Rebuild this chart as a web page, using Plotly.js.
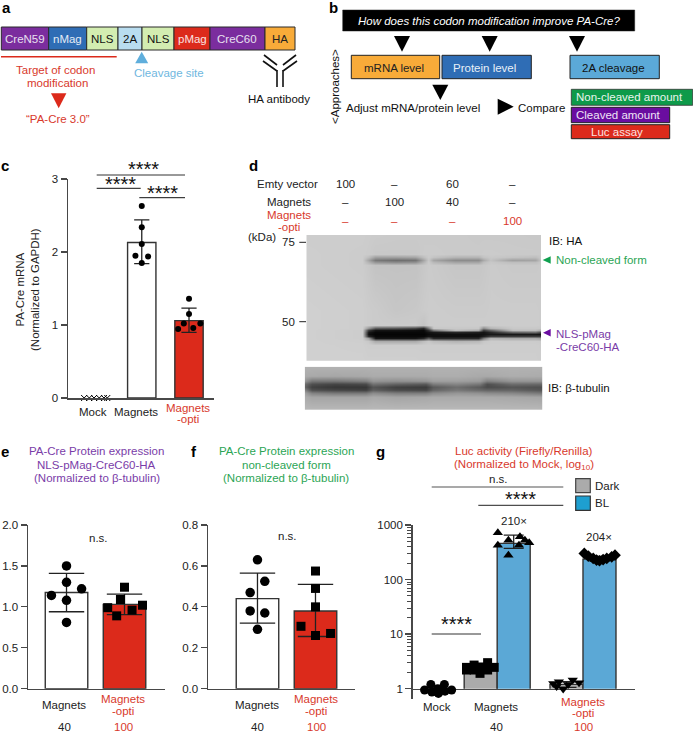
<!DOCTYPE html>
<html><head><meta charset="utf-8">
<script src="https://cdn.plot.ly/plotly-3.0.1.min.js"></script>
<style>html,body{margin:0;padding:0;background:#fff}</style></head>
<body><div id="chart" style="width:693px;height:733px"></div>
<script>
// ---- panel c: PA-Cre mRNA
const cCategories = ['Mock','Magnets','Magnets-opti'];
const cMeans = [0, 2.13, 1.06];
const cErrUp = [0, 0.31, 0.17];
const cErrDown = [0, 0.29, 0.16];
const cMockVals = [0,0,0,0,0,0];
const cMockJitter = [-0.22,-0.11,-0.01,0.1,0.2,0.27];
const cMagVals = [2.63,2.34,2.11,1.95,1.94,1.85];
const cMagJitter = [0,0,0,-0.134,0.134,0];
const cOptVals = [1.36,1.15,0.945,1.02,1.02,0.96];
const cOptJitter = [0,0,-0.23,-0.11,0.24,0.09];
// ---- panel e
const eMeans = [1.175, 1.03];
const eErrUp = [0.235, 0.125];
const eErrDown = [0.235, 0.125];
const eMagVals = [1.5,1.3,1.22,1.14,1.08,0.81];
const eMagJitter = [0,0,0.26,-0.26,0,0];
const eOptVals = [1.24,1.09,0.99,1.02,0.96,0.89];
const eOptJitter = [0,-0.07,-0.29,0.31,0.13,-0.135];
// ---- panel f
const fMeans = [0.44, 0.38];
const fErrUp = [0.125, 0.13];
const fErrDown = [0.12, 0.125];
const fMagVals = [0.63,0.525,0.47,0.38,0.37,0.29];
const fMagJitter = [0,0.126,-0.126,-0.126,0.126,0];
const fOptVals = [0.575,0.49,0.40,0.305,0.26,0.27];
const fOptJitter = [0,0,0,-0.25,0,0.26];
// ---- panel g
const gDarkPos = [0.76,2.06,4.66];
const gDarkMeans = [1.0,2.4,1.2];
const gDarkErrUp = [0.12,0.35,0.14];
const gDarkErrDown = [0.12,0.35,0.14];
const gBLPos = [3.06,5.66];
const gBLMeans = [460,237];
const gBLErrUp = [190,30];
const gBLErrDown = [88,22];
const gMockVals = [1.2,1.2,0.945,0.945,1.0,0.87,0.82,0.9,0.85];
const gMockJitter = [-0.21,0.2,-0.4,0.42,0,-0.18,0.02,0.22,0];
const gMagDarkVals = [2.46,2.71,3.0,2.46,2.2,2.2,1.91,2.2,2.5];
const gMagDarkJitter = [-0.43,-0.2,0.21,0.41,-0.43,-0.2,-0.02,0.21,-0.02];
const gMagBLVals = [720,608,528,528,472,427,427,280];
const gMagBLJitter = [-0.48,0.19,-0.16,0.34,0.47,-0.48,0.16,-0.16];
const gOptDarkVals = [1.25,1.34,0.99,1.44,1.29,1.2,1.1];
const gOptDarkJitter = [-0.4,-0.23,-0.1,0.19,0.38,0.05,-0.3];
const gOptBLVals = [301,269,244,221,244,261,280,228,232];
const gOptBLJitter = [-0.46,-0.34,-0.19,0,0.22,0.37,0.47,-0.09,0.11];
// ---- panel d: blot intensities (grey level per grid node)
const blotHAx = [306,362,368,375,395,415,423,428,433,455,478,483,490,512,535,541];
const blotHAy = [235,254,257,259.5,262,265,310,325,328,330,332,334,336,338,341,345,361];
const blotHAz = [
[205,205,204,203,202,202,202,202,202,202,201,201,201,201,200,200],
[206,204,203,200,200,200,203,203,203,202,202,203,203,202,202,202],
[206,204,190,160,160,165,190,203,195,180,180,195,200,195,190,202],
[206,204,165,120,110,115,165,200,165,140,140,170,195,160,165,200],
[206,204,180,150,140,145,180,203,185,165,165,190,200,190,190,202],
[206,204,200,195,195,195,200,203,202,198,198,200,203,201,201,202],
[208,206,204,203,198,200,203,204,204,203,203,203,204,204,204,203],
[208,206,204,203,203,203,195,204,204,204,204,204,204,204,204,203],
[208,206,150,90,85,70,40,120,200,200,200,140,180,200,200,200],
[208,205,60,20,20,15,10,50,120,190,170,60,100,190,190,170],
[208,205,25,8,8,8,8,20,25,40,30,20,40,100,110,70],
[208,205,15,5,5,5,5,12,15,15,15,18,25,25,25,20],
[208,205,40,8,8,8,8,20,15,15,15,30,60,60,60,60],
[208,205,160,20,20,20,40,90,40,40,40,120,180,170,170,160],
[208,206,200,170,170,170,190,200,190,180,185,200,204,203,203,202],
[208,207,205,205,205,205,205,205,205,205,205,205,205,205,205,204],
[208,208,207,207,207,207,206,206,206,206,206,206,206,206,206,205]];
const blotTubX = [305,312,335,365,372,395,425,432,455,478,485,510,540];
const blotTubY = [367,376,381,384,387,390,393,397,410];
const blotTubZ = [
[178,178,178,178,178,178,178,178,178,178,178,178,178],
[172,170,168,170,172,172,172,174,174,170,170,174,172],
[150,120,120,130,150,145,150,160,160,155,130,150,150],
[110,80,70,75,115,100,90,125,135,120,80,110,105],
[100,65,55,55,85,65,60,90,110,90,75,85,80],
[130,80,70,65,95,75,70,100,120,105,100,100,85],
[160,130,120,120,140,125,125,140,150,145,140,135,120],
[172,165,165,165,170,165,168,170,170,170,170,168,165],
[185,185,185,185,185,185,185,185,185,185,185,185,185]];

// ---- styles
const W = 693, H = 733;
const FONT = 'Liberation Sans, Arial, sans-serif';
const TXT = '#222222', AX = '#484848', RED = '#DC2A1B', BLUE = '#5BA8D6', PURPLE = '#7B2D9E',
      REDT = '#D8392C', GREENT = '#2BA555', PURPT = '#7A3CA8', SKY = '#6FB7E0';
const px = v => v / W, py = v => 1 - v / H;
const BASE = 11.5;

const shapes = [], annotations = [];
function rect(x0,y0,x1,y1,fill,lc,lw){shapes.push({type:'rect',xref:'paper',yref:'paper',x0:px(x0),x1:px(x1),y0:py(y0),y1:py(y1),fillcolor:fill,line:{color:lc||'#222',width:lw===undefined?1:lw}});}
function line(x0,y0,x1,y1,c,w){shapes.push({type:'line',xref:'paper',yref:'paper',x0:px(x0),x1:px(x1),y0:py(y0),y1:py(y1),line:{color:c||'#222',width:w||1}});}
function poly(pts,fill){shapes.push({type:'path',xref:'paper',yref:'paper',path:'M'+pts.map(p=>px(p[0])+' '+py(p[1])).join(' L')+' Z',fillcolor:fill,line:{width:0,color:fill}});}
function t(x,y,text,o){o=o||{};annotations.push({xref:'paper',yref:'paper',x:px(x),y:py(y),text:text,showarrow:false,xanchor:o.a||'center',yanchor:'middle',align:o.al||'center',textangle:o.rot||0,borderpad:0,
  font:{family:FONT,size:o.s||BASE,color:o.c||TXT,weight:o.w||'normal',style:o.i?'italic':'normal'}});}
function stars(x,y){t(x,y+3,'****',{s:20,c:'#111'});}
const DOSE_Y = 726.5;

// panel letters
[['a',6,8],['b',333,8],['c',5,166],['d',253,165],['e',5,451],['f',194,451],['g',380,451]].forEach(l=>t(l[1],l[2],l[0],{s:15,w:'bold',c:'#000'}));

// panel a
[[1.3,48.7,PURPLE,'CreN59','#E8E0F0'],[48.7,86.7,'#2F6DB5','nMag','#E3ECF6'],[86.7,118,'#D3EDB1','NLS','#111'],[118,142,'#B9DDF0','2A','#111'],
 [142,174,'#D3EDB1','NLS','#111'],[174,210,RED,'pMag','#FBE3E0'],[210,265,PURPLE,'CreC60','#E8E0F0'],[265,295,'#F8AB39','HA','#222']].forEach(b=>{
  rect(b[0],27,b[1],50,b[2],'#2a2a2a',1); t((b[0]+b[1])/2,39,b[3],{c:b[4]});});
line(1,56.7,116.7,56.7,RED,1.5);
t(55.7,70,'Target of codon',{c:REDT});
t(57.3,83.3,'modification',{c:REDT});
poly([[51,93.3],[66.4,93.3],[58.7,108.3]],RED);
t(58.3,119.3,'“PA-Cre 3.0”',{c:REDT});
poly([[141.7,51.7],[135.2,63.3],[148.2,63.3]],'#5FAEDC');
t(169,73.3,'Cleavage site',{c:SKY});
line(264,55,277,65,'#111',1.6);line(263,61,277,71,'#111',1.6);line(296,55,283,65,'#111',1.6);line(297,61,283,71,'#111',1.6);
line(277,70,277,87,'#111',1.6);line(283,70,283,87,'#111',1.6);
t(278.7,99,'HA antibody',{c:'#111'});

// panel b
rect(342.7,10,634.7,31,'#000','#222',0.5);
t(488.5,20.7,'How does this codon modification improve PA-Cre?',{c:'#fff',i:true});
[402,489.7,577].forEach(x=>poly([[x-8,36],[x+8,36],[x,51.7]],'#000'));
rect(351.3,55.3,439.7,78.7,'#F8AB39','#222',1);t(393.5,68,'mRNA level',{c:'#222'});
rect(442,55.3,531.3,78.7,'#2F6DB5','#222',1);t(484.5,68,'Protein level',{c:'#E8F0F8'});
rect(570,55.3,659.3,78.7,'#5BA9D8','#222',1);t(613,68,'2A cleavage',{c:'#111'});
poly([[432.3,84.7],[448.3,84.7],[440.3,100]],'#000');
t(413,107.7,'Adjust mRNA/protein level',{c:'#111'});
poly([[497.7,98.7],[497.7,114.7],[513.7,106.7]],'#000');
t(541,108,'Compare',{c:'#111'});
rect(571.3,89.3,692.7,105.3,'#0E9A4A','#333',0.8);t(629,97,'Non-cleaved amount',{c:'#EAF6EE'});
rect(571.3,107.3,669.7,122.7,'#6A0DA0','#222',1);t(618.3,115,'Cleaved amount',{c:'#EFE4F6'});
rect(571.3,124.7,669.7,138.7,RED,'#222',1);t(616.7,131.5,'Luc assay',{c:'#FBE3E0'});
t(335,87,'&lt;Approaches&gt;',{rot:-90,c:'#111'});

// panel c labels
line(96.7,175,185,175,'#333',1);stars(143,165.7);
line(96.7,188.3,140.7,188.3,'#111',1);stars(120,181);
line(139.3,197.7,185,197.7,'#111',1);stars(162.7,190);
t(92.7,412,'Mock');t(136,412,'Magnets');t(187.7,408,'Magnets',{c:REDT});t(187.7,419,'-opti',{c:REDT});
t(27,290,'PA-Cre mRNA<br>(Normalized to GAPDH)',{rot:-90});

// panel d labels
t(287.7,184,'Emty vector');t(345.3,184,'100');t(394.3,184,'–');t(452.7,184,'60');t(512.3,184,'–');
t(289,201.7,'Magnets');t(345.3,201.7,'–');t(394.3,201.7,'100');t(452.7,201.7,'40');t(512.3,201.7,'–');
t(289,215.3,'Magnets',{c:REDT});t(289,227,'-opti',{c:REDT});
t(345.3,221,'–',{c:REDT});t(394.3,221,'–',{c:REDT});t(452.7,221,'–',{c:REDT});t(512.8,221,'100',{c:REDT});
t(262.3,236.7,'(kDa)');t(288.7,242.3,'75');t(288.7,321.7,'50');
line(299.3,242.3,306,242.3,'#222',1);line(299.3,321.7,306,321.7,'#222',1);
t(565.7,241,'IB: HA',{c:'#111'});
poly([[542.7,260],[550.7,256.3],[550.7,263.7]],'#10A050');
t(554.7,260,'Non-cleaved form',{a:'left',c:GREENT});
poly([[543,332.7],[550.7,329],[550.7,336.4]],'#6A0DA0');
t(554.7,334,'NLS-pMag',{a:'left',c:PURPT});t(554.7,347.3,'-CreC60-HA',{a:'left',c:PURPT});
t(547.3,388,'IB: β-tubulin',{a:'left',c:'#111'});

// panel e labels
[451,464.7,478.3].forEach((y,i)=>t(96.7,y,['PA-Cre Protein expression','NLS-pMag-CreC60-HA','(Normalized to β-tubulin)'][i],{c:PURPT}));
t(98.7,537.7,'n.s.');t(64.3,705.3,'Magnets');t(123.3,699.3,'Magnets',{c:REDT});t(123.3,711,'-opti',{c:REDT});
t(64.3,DOSE_Y,'40');t(123.3,DOSE_Y,'100',{c:REDT});
// panel f labels
[451,464.7,478.3].forEach((y,i)=>t(286,y,['PA-Cre Protein expression','non-cleaved form','(Normalized to β-tubulin)'][i],{c:GREENT}));
t(287.7,536,'n.s.');t(257,705.3,'Magnets');t(316.3,699.3,'Magnets',{c:REDT});t(316.3,711,'-opti',{c:REDT});
t(257,DOSE_Y,'40');t(316.3,DOSE_Y,'100',{c:REDT});
// panel g labels
t(524,451,'Luc activity (Firefly/Renilla)',{c:REDT});
t(524,465,'(Normalized to Mock, log<sub>10</sub>)',{c:REDT});
line(431.7,487,563.3,487,'#555',1.2);t(498.3,479.3,'n.s.');
line(478.3,505.3,563.3,505.3,'#222',1);stars(520,496);
line(431.7,634,481,634,'#333',1);stars(456.3,621);
t(514.3,521,'210×');t(599.3,537.3,'204×');
t(437,707.3,'Mock');t(496,707.3,'Magnets');t(583,701.7,'Magnets',{c:REDT});t(583,713.3,'-opti',{c:REDT});
t(496,DOSE_Y,'40');t(583,DOSE_Y,'100',{c:REDT});
rect(575.7,478.7,590.3,492.7,'#ABABAB','#444',1.2);t(594,485.5,'Dark',{a:'left'});
rect(575.7,496,590.3,510.3,'#1E9FD0','#333',1.2);t(594,503,'BL',{a:'left'});

// ---- traces
const add = (a,b) => a.map(v => v + b);
function barT(x,y,up,dn,colors,w,xa,ya,cap){return {type:'bar',x:x,y:y,width:w,xaxis:xa,yaxis:ya,showlegend:false,
  marker:{color:colors,line:{color:'#333',width:1.4}},
  error_y:{type:'data',symmetric:false,array:up,arrayminus:dn,visible:true,color:'#222',thickness:1.3,width:cap}};}
function ptsT(x,y,sym,size,xa,ya,lw){return {type:'scatter',mode:'markers',x:x,y:y,xaxis:xa,yaxis:ya,showlegend:false,cliponaxis:false,
  marker:{symbol:sym,size:size,color:'#000',line:{color:'#000',width:lw||0}}};}

const data = [
 {type:'heatmap',x:blotHAx,y:blotHAy,z:blotHAz,xaxis:'x5',yaxis:'y5',zmin:0,zmax:255,zsmooth:'best',showscale:false,colorscale:[[0,'#000'],[1,'#fff']],hoverinfo:'skip'},
 {type:'heatmap',x:blotTubX,y:blotTubY,z:blotTubZ,xaxis:'x6',yaxis:'y6',zmin:0,zmax:255,zsmooth:'best',showscale:false,colorscale:[[0,'#000'],[1,'#fff']],hoverinfo:'skip'},
 barT([1,2],cMeans.slice(1),cErrUp.slice(1),cErrDown.slice(1),['#fff',RED],0.6,'x','y',7.6),
 ptsT(add(cMockJitter,0),cMockVals,'x-thin',6,'x','y',1),
 ptsT(add(cMagJitter,1),cMagVals,'circle',6,'x','y'),
 ptsT(add(cOptJitter,2),cOptVals,'circle',6,'x','y'),
 barT([0,1],eMeans,eErrUp,eErrDown,['#fff',RED],0.733,'x2','y2',17.7),
 ptsT(add(eMagJitter,0),eMagVals,'circle',9.5,'x2','y2'),
 ptsT(add(eOptJitter,1),eOptVals,'square',9,'x2','y2'),
 barT([0,1],fMeans,fErrUp,fErrDown,['#fff',RED],0.733,'x3','y3',17.7),
 ptsT(add(fMagJitter,0),fMagVals,'circle',9.5,'x3','y3'),
 ptsT(add(fOptJitter,1),fOptVals,'square',9,'x3','y3'),
 // panel g: bars hang from the y = 1 baseline on y4; the markers and the visible axis use y7
 barT(gDarkPos,gDarkMeans,gDarkErrUp,gDarkErrDown,'#ABABAB',1,'x4','y4',10),
 barT(gBLPos,gBLMeans,gBLErrUp,gBLErrDown,BLUE,1,'x4','y4',10),
 ptsT(add(gMockJitter,gDarkPos[0]),gMockVals,'circle',9,'x4','y7'),
 ptsT(add(gMagDarkJitter,gDarkPos[1]),gMagDarkVals,'square',9,'x4','y7'),
 ptsT(add(gMagBLJitter,gBLPos[0]),gMagBLVals,'triangle-up',9,'x4','y7'),
 ptsT(add(gOptDarkJitter,gDarkPos[2]),gOptDarkVals,'triangle-down',9,'x4','y7'),
 ptsT(add(gOptBLJitter,gBLPos[1]),gOptBLVals,'diamond',9,'x4','y7')
];

const tickFont = {family:FONT,size:BASE,color:TXT};
const xa = (x0,x1,r,an) => ({domain:[px(x0),px(x1)],range:r,anchor:an,showline:true,linecolor:AX,linewidth:1.5,ticks:'',showticklabels:false,showgrid:false,zeroline:false,fixedrange:true});
const ya = (y0,y1,r,an,extra) => Object.assign({domain:[py(y0),py(y1)],range:r,anchor:an,showline:true,linecolor:AX,linewidth:1.5,ticks:'outside',ticklen:6,tickwidth:1.3,tickcolor:AX,tickfont:tickFont,showgrid:false,zeroline:false,fixedrange:true},extra||{});

const layout = {
 width:W,height:H,margin:{l:0,r:0,t:0,b:0},paper_bgcolor:'#fff',plot_bgcolor:'rgba(0,0,0,0)',showlegend:false,barmode:'overlay',bargap:0,
 font:{family:FONT,size:BASE,color:TXT},shapes:shapes,annotations:annotations,
 xaxis:xa(68,214,[-0.561,2.529],'y'),
 yaxis:ya(398,179,[0,3],'x',{tickvals:[0,1,2,3],ticktext:['0','1','2','3']}),
 xaxis2:xa(28,165,[-0.664,1.698],'y2'),
 yaxis2:ya(688.7,525,[0,2],'x2',{tickvals:[0,0.5,1,1.5,2],ticktext:['0.0','0.5','1.0','1.5','2.0']}),
 xaxis3:xa(208,355,[-0.853,1.681],'y3'),
 yaxis3:ya(688.7,525,[0,0.8],'x3',{tickvals:[0,0.2,0.4,0.6,0.8],ticktext:['0.0','0.2','0.4','0.6','0.8']}),
 xaxis4:xa(412.7,635,[0,6.736],'y4'),
 yaxis4:{domain:[py(688.7),py(525)],range:[0,3],type:'log',anchor:'x4',visible:false,fixedrange:true},
 yaxis7:ya(699,525,[-0.1888,3],'x4',{type:'log',tickvals:[1,10,100,1000],ticktext:['1','10','100','1000'],minor:{ticks:'outside',ticklen:4,tickwidth:1,tickcolor:AX,tickvals:[2,3,4,5,6,7,8,9,20,30,40,50,60,70,80,90,200,300,400,500,600,700,800,900]}}),
 xaxis5:{domain:[px(306.3),px(541)],range:[306.3,541],anchor:'y5',visible:false,fixedrange:true},
 yaxis5:{domain:[py(360.7),py(235)],range:[360.7,235],anchor:'x5',visible:false,fixedrange:true},
 xaxis6:{domain:[px(304.7),px(542.3)],range:[305,540],anchor:'y6',visible:false,fixedrange:true},
 yaxis6:{domain:[py(410),py(366.7)],range:[410,367],anchor:'x6',visible:false,fixedrange:true}
};
Plotly.newPlot('chart',data,layout,{displayModeBar:false,staticPlot:true});
</script></body></html>
